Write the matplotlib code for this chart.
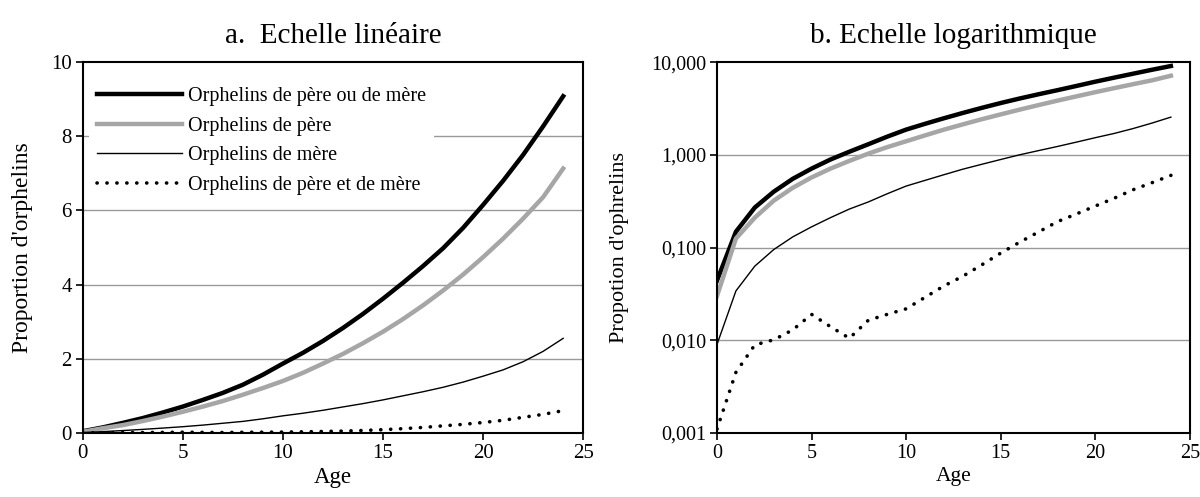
import numpy as np
import matplotlib
matplotlib.use("Agg")
from matplotlib import pyplot as plt
from matplotlib.ticker import FixedLocator, FuncFormatter

plt.rcParams['font.family'] = ['Liberation Serif', 'DejaVu Serif']

# données
ages = list(range(0, 25))
pere_ou_mere = [0.044, 0.148, 0.27, 0.40, 0.55, 0.71, 0.89, 1.08, 1.30, 1.57,
                1.87, 2.16, 2.48, 2.83, 3.21, 3.62, 4.05, 4.50, 4.98, 5.53,
                6.15, 6.80, 7.50, 8.27, 9.08]
pere = [0.030, 0.125, 0.21, 0.32, 0.44, 0.57, 0.71, 0.86, 1.03, 1.21,
        1.40, 1.62, 1.87, 2.13, 2.42, 2.73, 3.07, 3.44, 3.84, 4.27,
        4.74, 5.24, 5.78, 6.36, 7.13]
mere = [0.009, 0.034, 0.063, 0.095, 0.13, 0.167, 0.21, 0.26, 0.31, 0.38,
        0.46, 0.53, 0.61, 0.70, 0.79, 0.89, 1.00, 1.11, 1.23, 1.37,
        1.53, 1.70, 1.92, 2.20, 2.55]
pere_et_mere = [0.0011, 0.0045, 0.0089, 0.0101, 0.0129, 0.019, 0.014, 0.0105, 0.0164, 0.019,
                0.0218, 0.029, 0.0385, 0.049, 0.065, 0.087, 0.114, 0.147, 0.19, 0.23,
                0.28, 0.34, 0.42, 0.50, 0.60]

series = [
    ("Orphelins de père ou de mère", pere_ou_mere, dict(color='black', lw=3.2, ls='-')),
    ("Orphelins de père", pere, dict(color='#a6a6a6', lw=3.2, ls='-')),
    ("Orphelins de mère", mere, dict(color='black', lw=1.0, ls='-')),
    ("Orphelins de père et de mère", pere_et_mere, dict(color='black', lw=2.6, ls=(0, (0.05, 2.7)),
                                                         dash_capstyle='round')),
]

fig = plt.figure(figsize=(12, 4.97), dpi=100)
ax1 = fig.add_axes([0.069, 0.129, 0.417, 0.746])
ax2 = fig.add_axes([0.5975, 0.129, 0.394, 0.746])

for name, vals, st in series:
    ax1.plot(ages, vals, label=name, **st)
    ax2.plot(ages, vals, **st)

grid_col = '#999999'

# a. échelle linéaire
ax1.set_xlim(0, 25)
ax1.set_ylim(0, 10)
ax1.set_xticks([0, 5, 10, 15, 20, 25])
ax1.set_yticks([0, 2, 4, 6, 8, 10])
for y in [2, 4, 6, 8]:
    ax1.axhline(y, color=grid_col, lw=1, zorder=0)
ax1.set_title("a.  Echelle linéaire", fontsize=21, pad=14)
ax1.set_ylabel("Proportion d'orphelins", fontsize=17, labelpad=13)
ax1.set_xlabel("Age", fontsize=16.5, labelpad=3)
leg = ax1.legend(loc='upper left', bbox_to_anchor=(0.005, 0.965), fontsize=14.5,
                 handlelength=4.2, handletextpad=0.3, labelspacing=0.52,
                 frameon=True, fancybox=False, borderpad=0.4, borderaxespad=0.2)
leg.get_frame().set_edgecolor('none')
leg.get_frame().set_facecolor('white')
leg.get_frame().set_alpha(1)

# b. échelle logarithmique
ax2.set_yscale('log')
ax2.set_xlim(0, 25)
ax2.set_ylim(0.001, 10)
ax2.set_xticks([0, 5, 10, 15, 20, 25])
ax2.yaxis.set_major_locator(FixedLocator([0.001, 0.01, 0.1, 1, 10]))
ax2.yaxis.set_minor_locator(FixedLocator([]))
ax2.yaxis.set_major_formatter(FuncFormatter(lambda v, p: ('%.3f' % v).replace('.', ',')))
for y in [0.01, 0.1, 1]:
    ax2.axhline(y, color=grid_col, lw=1, zorder=0)
ax2.set_title("b. Echelle logarithmique", fontsize=21, pad=14)
ax2.set_ylabel("Propotion d'ophrelins", fontsize=16, labelpad=16)
ax2.set_xlabel("Age", fontsize=15.5, labelpad=3)

for ax in (ax1, ax2):
    for s in ax.spines.values():
        s.set_linewidth(1.5)
        s.set_color('black')
    ax.tick_params(axis='both', direction='out', length=5, width=1.2, labelsize=15, pad=3)

ax2.tick_params(axis='both', labelsize=14.5)

fig.savefig("out.png", dpi=100)
